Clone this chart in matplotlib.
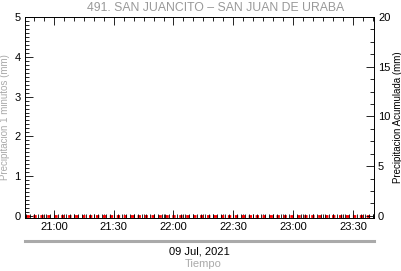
import numpy as np
import pandas as pd
import matplotlib
matplotlib.use('Agg')
import matplotlib.pyplot as plt
import matplotlib.dates as mdates

plt.rcParams['font.family'] = ['Liberation Sans', 'DejaVu Sans']

titulo = '491. SAN JUANCITO – SAN JUAN DE URABA'
fecha_txt = '09 Jul, 2021'

# serie de 1 minuto, todo en cero
tiempos = pd.date_range('2021-07-09 20:46', '2021-07-09 23:40', freq='1min')
precip = np.zeros(len(tiempos))
acum = np.cumsum(precip)

fig = plt.figure(figsize=(4.02, 2.71), dpi=100)
ax = fig.add_axes([0.062, 0.196, 0.868, 0.741])
ax2 = ax.twinx()

ax.plot(tiempos, precip, color='red', linestyle=(0, (1.2, 1.3)), linewidth=2, zorder=3)
ax.plot(tiempos[::2], precip[::2], linestyle='none', marker='|', markersize=3,
        color='black', markeredgewidth=0.6, zorder=4)
ax2.plot(tiempos, acum, color='red', linestyle='none')

ax.set_xlim(pd.Timestamp('2021-07-09 20:45:30'), pd.Timestamp('2021-07-09 23:40:30'))
ax.set_ylim(-0.05, 5)
ax2.set_ylim(-0.2, 20)

ax.xaxis.set_major_locator(mdates.MinuteLocator(byminute=[0, 30]))
ax.xaxis.set_minor_locator(mdates.MinuteLocator(byminute=range(0, 60, 5)))
ax.xaxis.set_major_formatter(mdates.DateFormatter('%H:%M'))
ax.set_yticks([0, 1, 2, 3, 4, 5])
ax.set_yticks(np.arange(0, 5.01, 0.1), minor=True)
ax2.set_yticks([0, 5, 10, 15, 20])
ax2.set_yticks(np.arange(0, 20.01, 1.25), minor=True)

ax.tick_params(axis='both', which='major', direction='in', length=6, width=0.6,
               labelsize=8, top=True, pad=3)
ax.tick_params(axis='both', which='minor', direction='in', length=3, width=0.6, top=True)
ax.tick_params(axis='y', which='both', right=False)
ax2.tick_params(axis='y', which='major', direction='in', length=6, width=0.6, labelsize=8, pad=3)
ax2.tick_params(axis='y', which='minor', direction='in', length=3, width=0.6)

for a in (ax, ax2):
    for s in a.spines.values():
        s.set_linewidth(0.6)

ax.set_ylabel('Precipitacion 1 minutos (mm)', fontsize=7, color='#aaaaaa')
ax2.set_ylabel('Precipitacion Acumulada (mm)', fontsize=7, color='black')
ax.yaxis.set_label_coords(-0.044, 0.5)
ax2.yaxis.set_label_coords(1.056, 0.5)
fig.text(0.535, 0.970, titulo, ha='center', va='center', fontsize=8.8, color='#999999')

# linea gris y textos debajo del eje
fig.add_artist(plt.Line2D([0.062, 0.930], [0.111, 0.111], color='#aaaaaa', linewidth=2.2))
fig.text(0.496, 0.071, fecha_txt, ha='center', va='center', fontsize=8, color='black')
fig.text(0.505, 0.026, 'Tiempo', ha='center', va='center', fontsize=8, color='#aaaaaa')

fig.savefig('out.png', dpi=100)
